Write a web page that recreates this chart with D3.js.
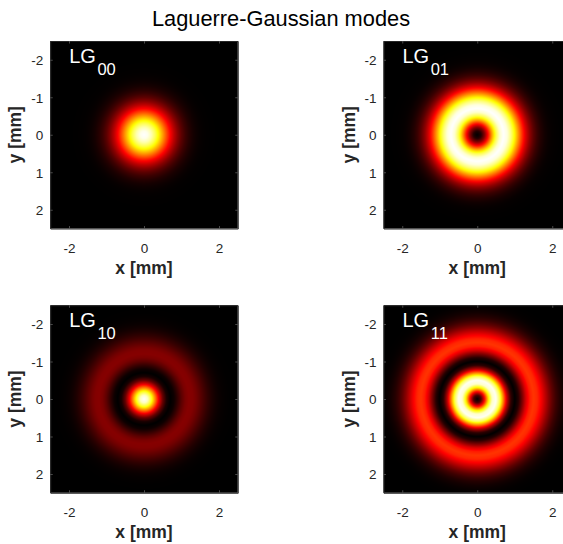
<!DOCTYPE html>
<html>
<head>
<meta charset="utf-8">
<script src="https://cdn.jsdelivr.net/npm/d3@7/dist/d3.min.js"></script>
<style>
  html, body { margin: 0; padding: 0; background: #fff; overflow: hidden; }
  svg { display: block; font-family: "Liberation Sans", Arial, Helvetica, sans-serif; }
</style>
</head>
<body>
<svg id="chart" width="563" height="544"></svg>
<script>
// ---- data ----
const chartTitle = "Laguerre-Gaussian modes";
const modeNames = ["00", "01", "10", "11"];
// radial sample positions, mm
const radius = [0,0.1,0.2,0.3,0.4,0.5,0.6,0.7,0.8,0.9,1.0,1.1,1.2,1.3,1.4,1.5,1.6,1.7,1.8,1.9,2.0,2.1,2.2,2.3,2.4,2.5,2.6,2.7,2.8];
// normalised intensity vs radius for each mode
const profileLG00 = [1,0.980,0.923,0.835,0.726,0.607,0.487,0.375,0.278,0.198,0.135,0.089,0.056,0.034,0.020,0.011,0.006,0.003,0.002,0.001,0,0,0,0,0,0,0,0,0];
const profileLG01 = [0,0.053,0.201,0.409,0.632,0.824,0.953,1.000,0.967,0.871,0.736,0.585,0.439,0.313,0.211,0.136,0.083,0.049,0.027,0.014,0.007,0.004,0.002,0.001,0,0,0,0,0];
const profileLG10 = [1,0.941,0.781,0.562,0.336,0.152,0.038,0.000,0.022,0.076,0.135,0.179,0.198,0.193,0.169,0.136,0.102,0.071,0.046,0.028,0.016,0.009,0.005,0.002,0.001,0,0,0,0];
const profileLG11 = [0,0.111,0.395,0.722,0.951,0.989,0.833,0.555,0.267,0.067,0,0.055,0.181,0.317,0.416,0.453,0.432,0.370,0.289,0.209,0.140,0.088,0.052,0.029,0.015,0.007,0.003,0.001,0];
const xTicks = [-2, 0, 2];
const yTicks = [-2, -1, 0, 1, 2];
const axisDomain = [-2.5, 2.5];
const xLabel = "x [mm]";
const yLabel = "y [mm]";

// ---- layout ----
const profiles = [profileLG00, profileLG01, profileLG10, profileLG11];
const panelSize = 187.5;
const colLeft = [50.25, 383.5];
const rowTop = [41, 305.25];
const axisColor = "#262626";
const tickFmt = d => String(d);

const svg = d3.select("#chart");

svg.append("text")
  .attr("x", 281).attr("y", 26)
  .attr("text-anchor", "middle")
  .attr("font-size", 21.8)
  .attr("fill", "#000")
  .text(chartTitle);

// MATLAB "hot" colormap
const hot = d3.scaleLinear()
  .domain([0, 0.375, 0.75, 1])
  .range(["#000000", "#ff0000", "#ffff00", "#ffffff"])
  .clamp(true);

profiles.forEach((prof, i) => {
  const col = i % 2, row = Math.floor(i / 2);
  const left = colLeft[col], top = rowTop[row];
  const x = d3.scaleLinear().domain(axisDomain).range([left, left + panelSize]);
  const y = d3.scaleLinear().domain(axisDomain).range([top, top + panelSize]);
  const prof2 = d3.scaleLinear().domain(radius).range(prof).clamp(true);

  // render the intensity field into an image
  const N = 376;
  const canvas = document.createElement("canvas");
  canvas.width = N; canvas.height = N;
  const ctx = canvas.getContext("2d");
  const img = ctx.createImageData(N, N);
  const px = d3.scaleLinear().domain([0, N]).range(axisDomain);
  for (let j = 0; j < N; j++) {
    const yy = px(j + 0.5);
    for (let k = 0; k < N; k++) {
      const xx = px(k + 0.5);
      const v = prof2(Math.hypot(xx, yy));
      const c = d3.rgb(hot(v));
      const o = (j * N + k) * 4;
      img.data[o] = c.r; img.data[o + 1] = c.g; img.data[o + 2] = c.b; img.data[o + 3] = 255;
    }
  }
  ctx.putImageData(img, 0, 0);

  const g = svg.append("g");
  g.append("image")
    .attr("x", x(axisDomain[0])).attr("y", y(axisDomain[0]))
    .attr("width", x(axisDomain[1]) - x(axisDomain[0]))
    .attr("height", y(axisDomain[1]) - y(axisDomain[0]))
    .attr("preserveAspectRatio", "none")
    .attr("href", canvas.toDataURL());

  // axes
  const bottom = top + panelSize, right = left + panelSize;
  const xa = g.append("g").attr("transform", `translate(0,${bottom})`)
    .call(d3.axisBottom(x).tickValues(xTicks).tickSizeInner(-2.5).tickSizeOuter(0).tickPadding(15).tickFormat(tickFmt));
  const ya = g.append("g").attr("transform", `translate(${left},0)`)
    .call(d3.axisLeft(y).tickValues(yTicks).tickSizeInner(-2.5).tickSizeOuter(0).tickPadding(7).tickFormat(tickFmt));
  const xt = g.append("g").attr("transform", `translate(0,${top})`)
    .call(d3.axisTop(x).tickValues(xTicks).tickSizeInner(-2.5).tickSizeOuter(0).tickFormat(""));
  const yr = g.append("g").attr("transform", `translate(${right},0)`)
    .call(d3.axisRight(y).tickValues(yTicks).tickSizeInner(-2.5).tickSizeOuter(0).tickFormat(""));
  [xa, ya, xt, yr].forEach(a => {
    a.select(".domain").attr("stroke", axisColor).attr("stroke-width", 1);
    a.selectAll(".tick line").attr("stroke", "#5a5a5a").attr("stroke-width", 0.8);
    a.selectAll(".tick text").attr("fill", axisColor).attr("font-size", 13.5)
      .attr("font-family", "Liberation Sans, Arial, sans-serif");
  });
  ya.selectAll(".tick text").attr("dy", "0.36em");

  g.append("text")
    .attr("x", (left + right) / 2).attr("y", bottom + 45)
    .attr("text-anchor", "middle")
    .attr("font-size", 17.5).attr("font-weight", "bold").attr("fill", axisColor)
    .text(xLabel);
  g.append("text")
    .attr("transform", `translate(${left - 29},${(top + bottom) / 2}) rotate(-90)`)
    .attr("text-anchor", "middle")
    .attr("font-size", 17.5).attr("font-weight", "bold").attr("fill", axisColor)
    .text(yLabel);

  // mode label
  const lab = g.append("text")
    .attr("x", left + 19).attr("y", top + 21.7)
    .attr("fill", "#fff").attr("font-size", 20);
  lab.append("tspan").text("LG");
  lab.append("tspan").attr("dx", 1.5).attr("dy", 12).attr("font-size", 16.5).text(modeNames[i]);
});
</script>
</body>
</html>
